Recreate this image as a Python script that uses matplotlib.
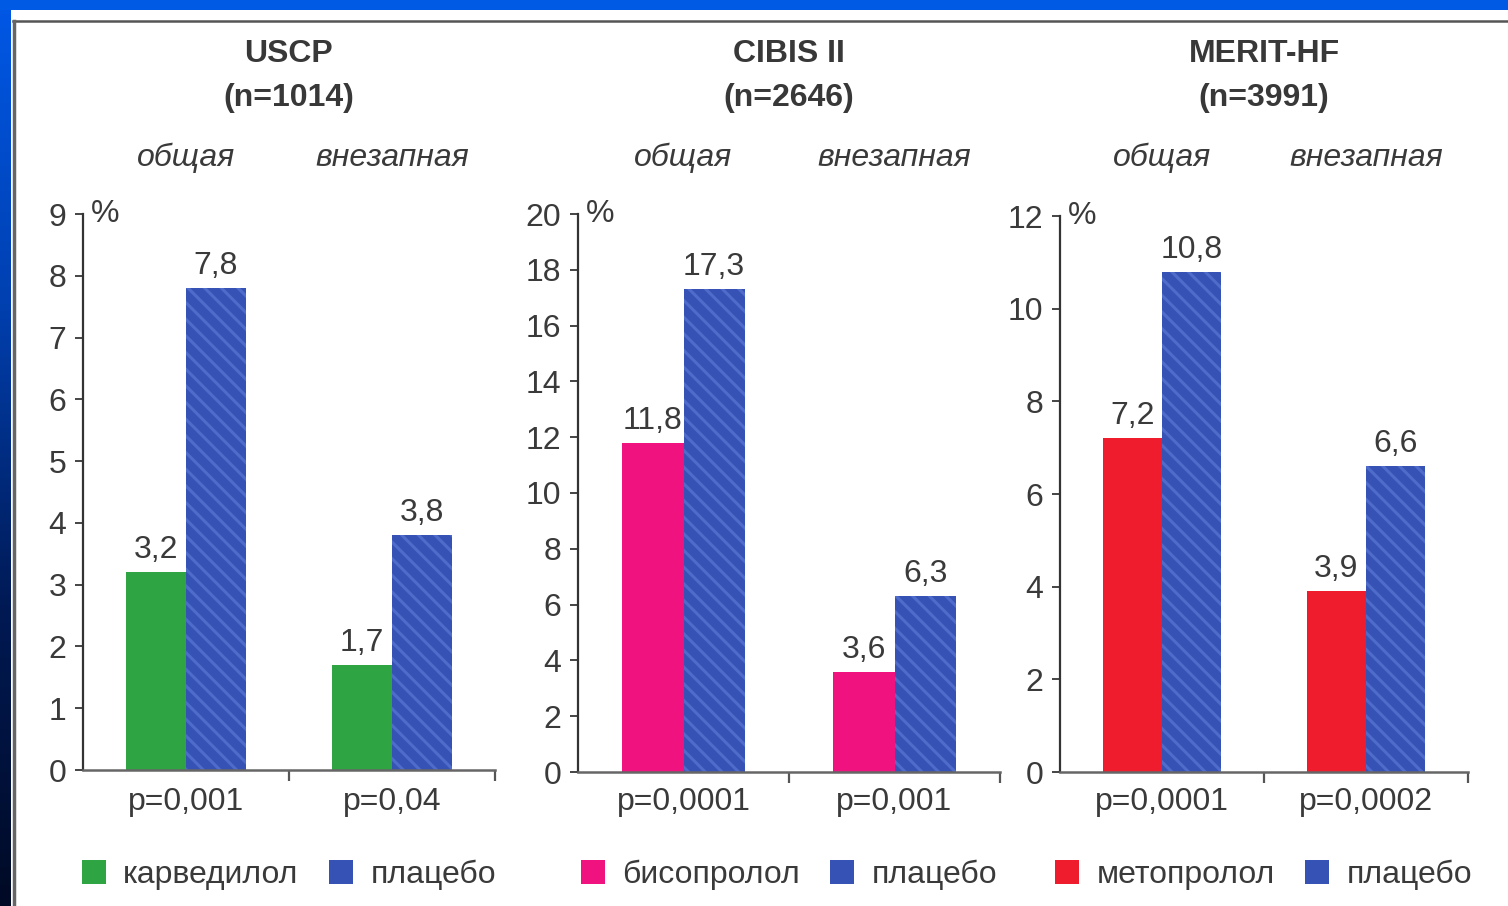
import numpy as np
import matplotlib
matplotlib.use("Agg")
import matplotlib.pyplot as plt
from matplotlib.patches import Patch, Rectangle
from matplotlib.transforms import blended_transform_factory
from matplotlib.colors import LinearSegmentedColormap

plt.rcParams['font.family'] = ['Liberation Sans', 'DejaVu Sans']
plt.rcParams['hatch.linewidth'] = 2.2

# ---- data ----
trial_names = ['USCP', 'CIBIS II', 'MERIT-HF']
trial_sizes = ['(n=1014)', '(n=2646)', '(n=3991)']
categories = ['общая', 'внезапная']
drug_names = ['карведилол', 'бисопролол', 'метопролол']
placebo_name = 'плацебо'
uscp_drug = [3.2, 1.7]
uscp_placebo = [7.8, 3.8]
cibis_drug = [11.8, 3.6]
cibis_placebo = [17.3, 6.3]
merit_drug = [7.2, 3.9]
merit_placebo = [10.8, 6.6]
uscp_p = ['p=0,001', 'p=0,04']
cibis_p = ['p=0,0001', 'p=0,001']
merit_p = ['p=0,0001', 'p=0,0002']
y_max = [9, 20, 12]
y_step = [1, 2, 2]

drug_values = [uscp_drug, cibis_drug, merit_drug]
placebo_values = [uscp_placebo, cibis_placebo, merit_placebo]
p_values = [uscp_p, cibis_p, merit_p]
drug_colors = ['#2fa443', '#f0127e', '#ee1c2c']
placebo_color = '#3652b4'
placebo_hatch = '#4f6cca'
text_color = '#3a3a3a'

W, H = 1508, 906
fig = plt.figure(figsize=(W / 100, H / 100), dpi=100)
fig.patch.set_facecolor('white')

# ---- slide frame ----
bg = fig.add_axes([0, 0, 1, 1], zorder=-10)
bg.set_xlim(0, W)
bg.set_ylim(H, 0)
bg.axis('off')
grad = np.linspace(0, 1, 256).reshape(-1, 1)
cm = LinearSegmentedColormap.from_list('frame', ['#0058e6', '#0040b0', '#001a55', '#000a25'])
bg.imshow(grad, cmap=cm, extent=(0, 11, H, 0), aspect='auto')
bg.add_patch(Rectangle((0, 0), W, 10, facecolor='#005ae4', edgecolor='none'))
bg.add_patch(Rectangle((11, 10), W - 11, H - 10, facecolor='white', edgecolor='none'))
bg.plot([13, W], [21, 21], color='#555555', lw=1.8)
bg.plot([14, 14], [21, H], color='#666666', lw=2.5)

axes_pos = [
    [83 / W, (H - 770) / H, (495 - 83) / W, (770 - 214) / H],
    [578 / W, (H - 772) / H, (1000 - 578) / W, (772 - 214) / H],
    [1060 / W, (H - 772) / H, (1468 - 1060) / W, (772 - 216) / H],
]

x = np.arange(len(categories))
bw = 0.29
fs = 23

for i in range(3):
    ax = fig.add_axes(axes_pos[i])
    ax.set_facecolor('none')
    ax.bar(x - bw / 2, drug_values[i], width=bw, color=drug_colors[i], linewidth=0)
    ax.bar(x + bw / 2, placebo_values[i], width=bw, color=placebo_color,
           edgecolor=placebo_hatch, hatch='\\\\', linewidth=0)
    for xi, v in zip(x - bw / 2, drug_values[i]):
        ax.annotate(f'{v:.1f}'.replace('.', ','), (xi, v), xytext=(0, 5),
                    textcoords='offset points', ha='center', va='bottom',
                    fontsize=fs, color=text_color)
    for xi, v in zip(x + bw / 2, placebo_values[i]):
        ax.annotate(f'{v:.1f}'.replace('.', ','), (xi, v), xytext=(0, 5),
                    textcoords='offset points', ha='center', va='bottom',
                    fontsize=fs, color=text_color)
    ax.set_xlim(-0.5, 1.5)
    ax.set_ylim(0, y_max[i])
    ax.set_yticks(np.arange(0, y_max[i] + 0.01, y_step[i]))
    ax.set_yticklabels([str(int(t)) for t in ax.get_yticks()])
    ax.set_xticks([0.5, 1.5])
    ax.set_xticklabels([])
    ax.tick_params(axis='y', direction='out', length=6, width=1.4, colors='#444444',
                   labelsize=fs, labelcolor=text_color, pad=6)
    ax.tick_params(axis='x', direction='out', length=8, width=1.6, colors='#555555')
    for s in ['top', 'right']:
        ax.spines[s].set_visible(False)
    ax.spines['left'].set_color('#333333')
    ax.spines['left'].set_linewidth(1.6)
    ax.spines['bottom'].set_color('#666666')
    ax.spines['bottom'].set_linewidth(1.8)

    ax.annotate('%', (0, y_max[i]), xycoords=('axes fraction', 'data'),
                xytext=(6, 0), textcoords='offset points', ha='left', va='center',
                fontsize=fs, color=text_color)

    tr = blended_transform_factory(ax.transData, fig.transFigure)
    ax.text(0.5, (H - 54) / H, trial_names[i], transform=tr, ha='center', va='center',
            fontsize=fs, fontweight='bold', color='#383838')
    ax.text(0.5, (H - 98) / H, trial_sizes[i], transform=tr, ha='center', va='center',
            fontsize=fs, fontweight='bold', color='#383838')
    for xi, c in zip(x, categories):
        ax.text(xi, (H - 158) / H, c, transform=tr, ha='center', va='center',
                fontsize=fs, style='italic', color=text_color)
    for xi, p in zip(x, p_values[i]):
        ax.text(xi, (H - 802) / H, p, transform=tr, ha='center', va='center',
                fontsize=fs, color=text_color)

    handles = [Patch(facecolor=drug_colors[i], edgecolor='none'),
               Patch(facecolor=placebo_color, edgecolor='none')]
    ax.legend(handles, [drug_names[i], placebo_name], ncol=2, frameon=False,
              loc='center', bbox_to_anchor=(0.5, (H - 875) / H),
              bbox_transform=blended_transform_factory(ax.transAxes, fig.transFigure),
              fontsize=fs, handlelength=0.75, handleheight=0.75, handletextpad=0.55,
              columnspacing=0.95, labelcolor=text_color, borderpad=0)

fig.savefig('out.png', dpi=100)
